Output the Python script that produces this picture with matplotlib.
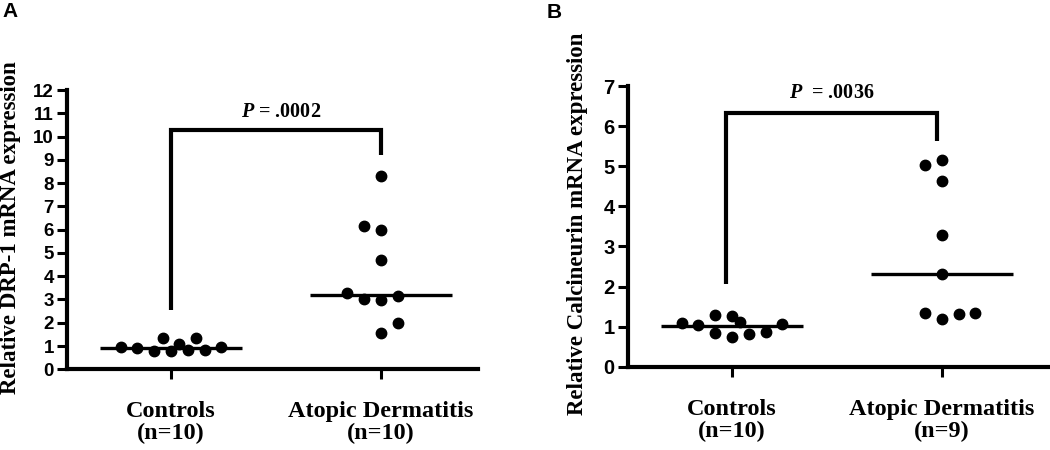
import matplotlib.pyplot as plt

# Values (relative mRNA expression)
categories = ['Controls\n(n=10)', 'Atopic Dermatitis\n(n=10)']
categories_b = ['Controls\n(n=10)', 'Atopic Dermatitis\n(n=9)']

drp1_controls = [0.97, 0.90, 0.80, 1.36, 0.79, 1.07, 0.83, 1.36, 0.83, 0.97]
drp1_ad = [3.26, 3.01, 2.98, 3.15, 1.98, 1.55, 4.70, 6.16, 5.98, 8.32]
drp1_medians = [0.93, 3.19]

calcineurin_controls = [1.08, 1.03, 1.29, 0.83, 1.26, 0.73, 1.12, 0.81, 0.87, 1.06]
calcineurin_ad = [5.02, 5.15, 4.63, 3.28, 2.30, 1.33, 1.18, 1.31, 1.33]
calcineurin_medians = [1.02, 2.30]

p_values = ['.0002', '.0036']
y_labels = ['Relative DRP-1 mRNA expression', 'Relative Calcineurin mRNA expression']

# horizontal scatter of the dots (column scatter layout, as in the picture)
drp1_controls_jit = [-0.24, -0.16, -0.08, -0.04, 0.0, 0.04, 0.08, 0.12, 0.16, 0.24]
drp1_ad_jit = [-0.16, -0.08, 0.0, 0.08, 0.08, 0.0, 0.0, -0.08, 0.0, 0.0]
calc_controls_jit = [-0.24, -0.16, -0.08, -0.08, 0.0, 0.0, 0.04, 0.08, 0.16, 0.24]
calc_ad_jit = [-0.08, 0.0, 0.0, 0.0, 0.0, -0.08, 0.0, 0.08, 0.16]

serif = 'Liberation Serif'
sans = 'Liberation Sans'
W, H = 1050, 450

# bold italic P in the p-value labels
plt.rcParams['mathtext.fontset'] = 'custom'
plt.rcParams['mathtext.it'] = serif + ':italic:bold'
plt.rcParams['mathtext.bf'] = serif + ':bold'
plt.rcParams['mathtext.rm'] = serif


def draw_panel(ax, groups, jitters, medians, ymax, ticksize, labels):
    """Column scatter with median lines, styled like a GraphPad plot."""
    for i, (vals, jit) in enumerate(zip(groups, jitters)):
        xs = [i + 1 + j for j in jit]
        ax.plot(xs, vals, 'o', color='black', markersize=7.5, zorder=3, clip_on=False)
        ax.plot([i + 1 - 0.337, i + 1 + 0.337], [medians[i], medians[i]],
                color='black', lw=2.4, zorder=2, solid_capstyle='butt')

    ax.set_ylim(0, ymax)
    ax.set_yticks(range(0, ymax + 1))
    ax.set_xticks([1, 2])
    ax.set_xticklabels(labels, fontfamily=serif, fontweight='bold', fontsize=17.5,
                       linespacing=1.05)
    for t in ax.get_yticklabels():
        t.set_fontfamily(sans)
        t.set_fontweight('bold')
        t.set_fontsize(ticksize)

    for side in ['top', 'right']:
        ax.spines[side].set_visible(False)
    for side in ['left', 'bottom']:
        ax.spines[side].set_linewidth(3)
    ax.tick_params(axis='y', direction='out', length=7, width=2.2, pad=2.5)
    ax.tick_params(axis='x', direction='out', length=7, width=2.2, pad=16)


fig = plt.figure(figsize=(10.5, 4.5), dpi=100)

# Panel A
axA = fig.add_axes([67 / W, 1 - 369.3 / H, 410.6 / W, 279.3 / H])
axA.set_xlim(0.505, 2.46)
draw_panel(axA, [drp1_controls, drp1_ad], [drp1_controls_jit, drp1_ad_jit],
           drp1_medians, 12, 13.5, categories)
axA.plot([1.0, 1.0, 2.0, 2.0], [2.55, 10.3, 10.3, 9.2], color='black', lw=3,
         solid_joinstyle='miter', solid_capstyle='butt')
axA.text(1.524, 11.07, r'$\mathit{P}$' + ' = ' + p_values[0], ha='center', va='center',
         fontfamily=serif, fontweight='bold', fontsize=14.5)

# Panel B
axB = fig.add_axes([628 / W, 1 - 366.7 / H, 422 / W, 280.7 / H])
axB.set_xlim(0.505, 2.515)
draw_panel(axB, [calcineurin_controls, calcineurin_ad], [calc_controls_jit, calc_ad_jit],
           calcineurin_medians, 7, 14.5, categories_b)
axB.plot([0.97, 0.97, 1.975, 1.975], [2.06, 6.33, 6.33, 5.63], color='black', lw=3,
         solid_joinstyle='miter', solid_capstyle='butt')
axB.text(1.476, 6.82, r'$\mathit{P}$' + '  = ' + p_values[1], ha='center', va='center',
         fontfamily=serif, fontweight='bold', fontsize=14.5)

# y axis titles and panel letters
fig.text(11 / W, 1 - 228 / H, y_labels[0], rotation=90, ha='center', va='center',
         fontfamily=serif, fontweight='bold', fontsize=16.5)
fig.text(578 / W, 1 - 223.5 / H, y_labels[1], rotation=90, ha='center', va='center',
         fontfamily=serif, fontweight='bold', fontsize=16.5)
fig.text(2 / W, 1 - 2 / H, 'A', ha='left', va='top',
         fontfamily=sans, fontweight='bold', fontsize=15)
fig.text(547 / W, 1 - 3 / H, 'B', ha='left', va='top',
         fontfamily=sans, fontweight='bold', fontsize=15)

fig.savefig('out.png', dpi=100)
